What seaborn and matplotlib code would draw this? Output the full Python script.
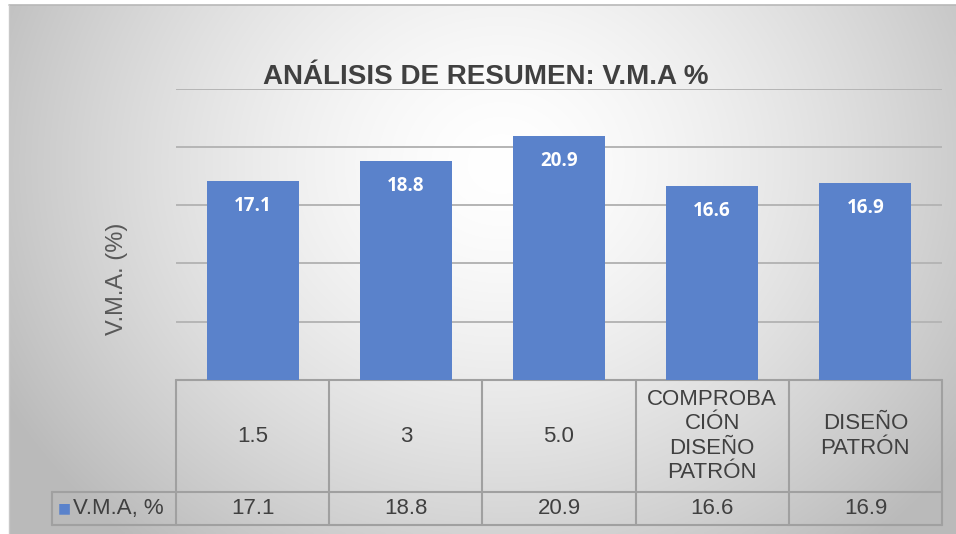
import numpy as np
import matplotlib
matplotlib.use("Agg")
import matplotlib.pyplot as plt
import matplotlib.transforms as mtrans
import seaborn as sns

# ---- data ----
categories = ["1.5", "3", "5.0", "COMPROBA\nCIÓN\nDISEÑO\nPATRÓN", "DISEÑO\nPATRÓN"]
values = [17.1, 18.8, 20.9, 16.6, 16.9]
value_labels = ["17.1", "18.8", "20.9", "16.6", "16.9"]
series_name = "V.M.A, %"
title = "ANÁLISIS DE RESUMEN: V.M.A %"
ylabel = "V.M.A. (%)"

W, H = 956, 534
DPI = 100
sns.set_theme(style="white")
plt.rcParams['font.family'] = ['Liberation Sans', 'DejaVu Sans']

fig = plt.figure(figsize=(W / DPI, H / DPI), dpi=DPI)
fig.patch.set_facecolor("white")

def fx(px):
    return px / W

def fy(py):
    return 1 - py / H

# background gradient (chart area from x=9, y=5)
bg = fig.add_axes([fx(9), 0, 1 - fx(9), fy(5)], zorder=-10)
gx = np.linspace(0, 1, 400)
gy = np.linspace(0, 1, 240)
X, Y = np.meshgrid(gx, gy)
R = np.sqrt(((X - 0.52) / 0.6) ** 2 + ((Y - 0.3) / 0.95) ** 2)
R = np.clip(R, 0, 1)
val = 1.0 - 0.27 * R ** 1.5
img = np.dstack([val, val, val])
bg.imshow(img, aspect="auto", extent=[0, 1, 1, 0], interpolation="bilinear")
bg.set_axis_off()
fig.add_artist(plt.Line2D([fx(9), 1], [fy(5), fy(5)], color="#b8b8b8", lw=1.2))
fig.add_artist(plt.Line2D([fx(9), fx(9)], [0, fy(5)], color="#c8c8c8", lw=1.0))

# main axes
L, R_, T, B = 176, 942, 88.5, 380
ax = fig.add_axes([fx(L), fy(B), fx(R_) - fx(L), fy(T) - fy(B)])
ax.set_facecolor("none")

bar_color = "#5a82cb"
sns.barplot(x=list(range(len(values))), y=values, color=bar_color, saturation=1,
            width=0.6, linewidth=0, edgecolor="none", ax=ax, zorder=3)
ax.set_xlim(-0.5, len(values) - 0.5)
ax.set_ylim(0, 25)
ax.set_yticks([5, 10, 15, 20, 25])
ax.yaxis.grid(True, color="#b5b5b5", lw=1.4)
ax.set_axisbelow(True)
ax.tick_params(left=False, bottom=False, labelleft=False, labelbottom=False)
for s in ax.spines.values():
    s.set_visible(False)
ax.set_xlabel("")
ax.set_ylabel("")

# value labels inside bars
for i, (v, lab) in enumerate(zip(values, value_labels)):
    ax.annotate(lab, (i, v), xytext=(0, -25), textcoords="offset pixels",
                ha="center", va="center", color="white", fontsize=13.5,
                fontweight="bold", family="Open Sans", zorder=5)

# title and y label
fig.text(fx(486), fy(77), title, ha="center", va="center", fontsize=20,
         fontweight="bold", color="#404040")
fig.text(fx(117), fy(279), ylabel, ha="center", va="center", rotation=90,
         fontsize=17, color="#595959")

# data table
trans = mtrans.blended_transform_factory(ax.transData, fig.transFigure)
line_c = "#a0a0a0"
lw = 1.5
unit_px = (R_ - L) / len(values)
label_left = -0.5 - (L - 52) / unit_px
y_top, y_mid, y_bot = fy(380), fy(492), fy(525)
n = len(values)
lines = []
lines.append(([-0.5, n - 0.5], [y_top, y_top]))
lines.append(([label_left, n - 0.5], [y_mid, y_mid]))
lines.append(([label_left, n - 0.5], [y_bot, y_bot]))
for k in range(n + 1):
    lines.append(([k - 0.5, k - 0.5], [y_top, y_bot]))
lines.append(([label_left, label_left], [y_mid, y_bot]))
for xs, ys in lines:
    ax.add_artist(plt.Line2D(xs, ys, color=line_c, lw=lw, transform=trans, clip_on=False))

for i, cat in enumerate(categories):
    ax.text(i, fy(436), cat, ha="center", va="center", transform=trans,
            fontsize=16, color="#404040", linespacing=1.2, clip_on=False)
    ax.text(i, (y_mid + y_bot) / 2, value_labels[i], ha="center", va="center",
            transform=trans, fontsize=16, color="#404040", clip_on=False)

fig.text(fx(58), (y_mid + y_bot) / 2, "■", ha="left", va="center", fontsize=10,
         color=bar_color, family="DejaVu Sans")
fig.text(fx(73), (y_mid + y_bot) / 2, series_name, ha="left", va="center",
         fontsize=16, color="#404040")

fig.savefig("out.png", dpi=DPI)
